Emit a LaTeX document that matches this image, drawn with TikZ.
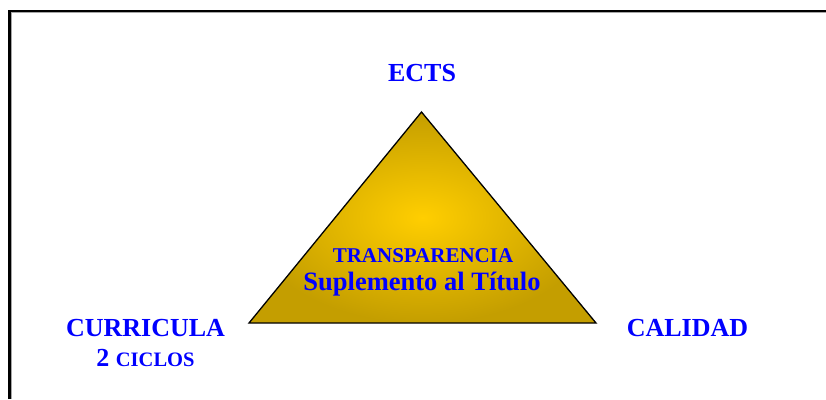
\documentclass[tikz,border=0pt]{standalone}
\usepackage{fontspec}
\setmainfont{Liberation Serif}
\definecolor{goldin}{RGB}{255,206,0}
\definecolor{goldout}{RGB}{196,158,0}
\definecolor{labelblue}{RGB}{0,0,255}
\begin{document}
\begin{tikzpicture}[x=1pt,y=-1pt]
\useasboundingbox (0,0) rectangle (826,399);
% marco
\draw[line width=2.2pt] (9.5,399) -- (9.5,11) -- (826,11);
\draw[gray!70,line width=0.6pt] (11,399) -- (11,12.5) -- (826,12.5);

% triangulo
\coordinate (apex) at (421.5,112);
\coordinate (left) at (249,323);
\coordinate (right) at (596,323);
\shade[inner color=goldin,outer color=goldout,draw=black,line width=1.3pt]
  (apex) -- (right) -- (left) -- cycle;

\begin{scope}
\tikzstyle{every node}=[text=labelblue,font=\bfseries,inner sep=0pt]
\node (ects) at (422,73) {\fontsize{26}{30}\selectfont ECTS};
\node (curr) at (145.5,328) {\fontsize{26}{30}\selectfont CURRICULA};
\node (ciclos) at (145.5,358) {\fontsize{26}{30}\selectfont 2 \fontsize{20.5}{24}\selectfont CICLOS};
\node (cal) at (687.5,328) {\fontsize{26}{30}\selectfont CALIDAD};
\node (transp) at (423,256) {\fontsize{21}{24}\selectfont TRANSPARENCIA};
\node (supl) at (422,284) {\fontsize{26.5}{30}\selectfont Suplemento al Título};
\end{scope}
\end{tikzpicture}
\end{document}
